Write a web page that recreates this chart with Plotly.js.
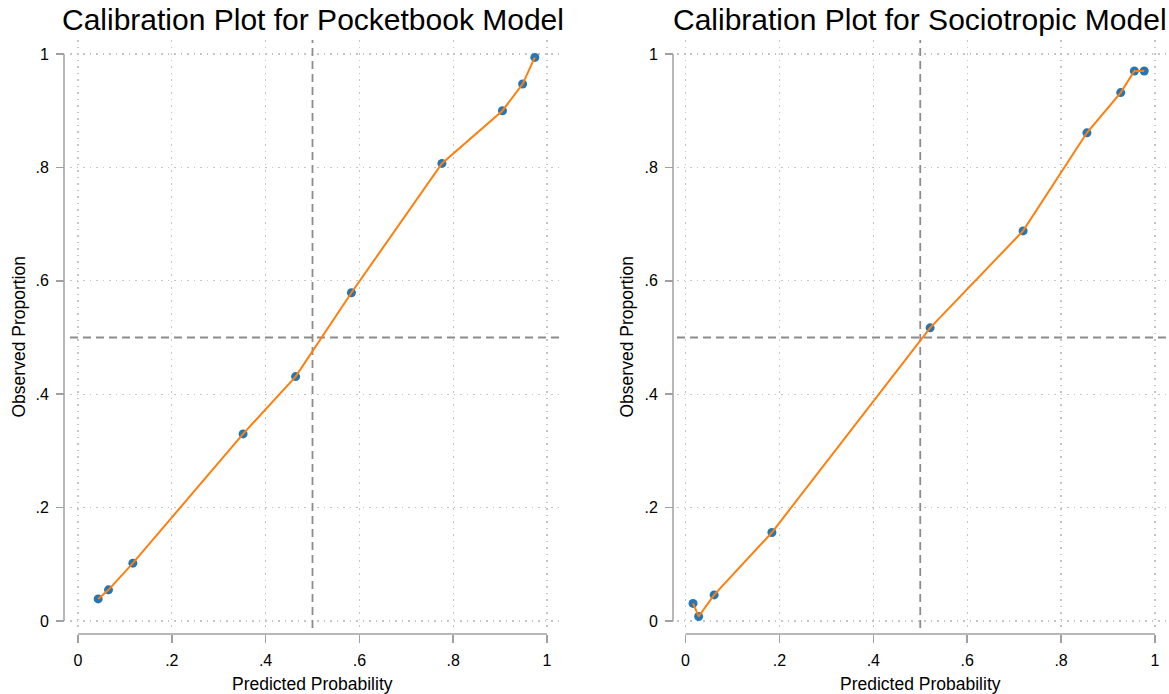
<!DOCTYPE html>
<html>
<head>
<meta charset="utf-8">
<script src="https://cdn.plot.ly/plotly-3.0.1.min.js"></script>
<style>html,body{margin:0;padding:0;background:#fff;}#chart{width:1169px;height:694px;}</style>
</head>
<body>
<div id="chart"></div>
<script>
// ---- data ----
const pocketbookPred = [0.043, 0.065, 0.117, 0.352, 0.464, 0.583, 0.776, 0.905, 0.948, 0.974];
const pocketbookObs  = [0.039, 0.055, 0.102, 0.330, 0.431, 0.579, 0.807, 0.900, 0.947, 0.994];
const sociotropicPred = [0.016, 0.028, 0.061, 0.184, 0.521, 0.719, 0.855, 0.927, 0.956, 0.977];
const sociotropicObs  = [0.031, 0.008, 0.046, 0.156, 0.517, 0.688, 0.861, 0.932, 0.970, 0.970];
const tickVals = [0, 0.2, 0.4, 0.6, 0.8, 1];
const tickText = ['0', '.2', '.4', '.6', '.8', '1'];
const titles = ['Calibration Plot for Pocketbook Model', 'Calibration Plot for Sociotropic Model'];
const xTitle = 'Predicted Probability';
const yTitle = 'Observed Proportion';
const refLine = 0.5;

// ---- style ----
const W = 1169, H = 694;
const FONT = '"Liberation Sans", Arial, sans-serif';
const markerColor = '#2676b2';
const lineColor = '#ff7f0e';
const axisColor = '#a0a0a0';
const gridColor = '#c4c4c4';
const px = v => v / W;
const py = v => (H - v) / H;

function markerTrace(x, y, xa, ya) {
  return {x: x, y: y, xaxis: xa, yaxis: ya, type: 'scatter', mode: 'markers',
    marker: {color: markerColor, size: 9}, hoverinfo: 'skip', showlegend: false};
}
function lineTrace(x, y, xa, ya) {
  return {x: x, y: y, xaxis: xa, yaxis: ya, type: 'scatter', mode: 'lines',
    line: {color: lineColor, width: 2}, hoverinfo: 'skip', showlegend: false};
}

const data = [
  markerTrace(pocketbookPred, pocketbookObs, 'x', 'y'),
  lineTrace(pocketbookPred, pocketbookObs, 'x', 'y'),
  markerTrace(sociotropicPred, sociotropicObs, 'x2', 'y2'),
  lineTrace(sociotropicPred, sociotropicObs, 'x2', 'y2')
];

const yDomain = [py(628), py(40)];
const yRange = [(621 - 628) / 567, (621 - 40) / 567];

function xAxis(domain, range, pos) {
  return {domain: domain, range: range, anchor: 'free', position: pos,
    showline: false, zeroline: false,
    showgrid: true, gridcolor: gridColor, gridwidth: 1.3, griddash: '1.5px,5px',
    tickmode: 'array', tickvals: tickVals, ticktext: tickText,
    ticks: 'outside', ticklen: 8, tickwidth: 1.5, tickcolor: axisColor,
    tickfont: {family: FONT, size: 16, color: '#000'}, ticklabelstandoff: 4,
    fixedrange: true};
}
function yAxis(range, pos) {
  return {domain: yDomain, range: range, anchor: 'free', position: pos,
    showline: false, zeroline: false,
    showgrid: true, gridcolor: gridColor, gridwidth: 1.3, griddash: '1.5px,5px',
    tickmode: 'array', tickvals: tickVals, ticktext: tickText,
    ticks: 'outside', ticklen: 8, tickwidth: 1.5, tickcolor: axisColor,
    tickfont: {family: FONT, size: 16, color: '#000'}, ticklabelstandoff: 4,
    fixedrange: true};
}

const xAxisPos = py(634);
const yAxisPosL = px(64), yAxisPosR = px(673);

const layout = {
  width: W, height: H,
  margin: {l: 0, r: 0, t: 0, b: 0, pad: 0},
  paper_bgcolor: '#fff', plot_bgcolor: '#fff',
  showlegend: false,
  xaxis: xAxis([px(70), px(559)], [(70 - 78) / 469, (559 - 78) / 469], xAxisPos),
  yaxis: yAxis(yRange, yAxisPosL),
  xaxis2: xAxis([px(677), px(1167)], [(677 - 685.5) / 469.5, (1167 - 685.5) / 469.5], xAxisPos),
  yaxis2: yAxis(yRange, yAxisPosR),
  shapes: [],
  annotations: []
};

[['x', 'y', yAxisPosL], ['x2', 'y2', yAxisPosR]].forEach(function (a, i) {
  const xa = a[0], ya = a[1];
  // axis lines from 0 to 1
  layout.shapes.push({type: 'line', xref: xa, yref: 'paper', x0: 0, x1: 1, y0: xAxisPos, y1: xAxisPos,
    line: {color: axisColor, width: 1.5}, layer: 'above'});
  layout.shapes.push({type: 'line', xref: 'paper', yref: ya, x0: a[2], x1: a[2], y0: 0, y1: 1,
    line: {color: axisColor, width: 1.5}, layer: 'above'});
  // dashed reference lines
  layout.shapes.push({type: 'line', xref: xa, yref: ya + ' domain', x0: refLine, x1: refLine, y0: 0, y1: 1,
    line: {color: '#8c8c8c', width: 1.8, dash: '8px,5px'}, layer: 'below'});
  layout.shapes.push({type: 'line', xref: xa + ' domain', yref: ya, x0: 0, x1: 1, y0: refLine, y1: refLine,
    line: {color: '#8c8c8c', width: 1.8, dash: '8px,5px'}, layer: 'below'});
  // titles
  layout.annotations.push({text: titles[i], xref: xa, yref: 'paper', x: 0.5, y: py(20),
    xanchor: 'center', yanchor: 'middle', showarrow: false,
    font: {family: FONT, size: 30, color: '#000'}});
  layout.annotations.push({text: xTitle, xref: xa, yref: 'paper', x: 0.5, y: py(684),
    xanchor: 'center', yanchor: 'middle', showarrow: false,
    font: {family: FONT, size: 17.5, color: '#000'}});
  layout.annotations.push({text: yTitle, xref: 'paper', yref: ya, x: px(i === 0 ? 18 : 626), y: 0.5,
    xanchor: 'center', yanchor: 'middle', showarrow: false, textangle: -90,
    font: {family: FONT, size: 17.5, color: '#000'}});
});

Plotly.newPlot('chart', data, layout, {staticPlot: true, displayModeBar: false});
</script>
</body>
</html>
